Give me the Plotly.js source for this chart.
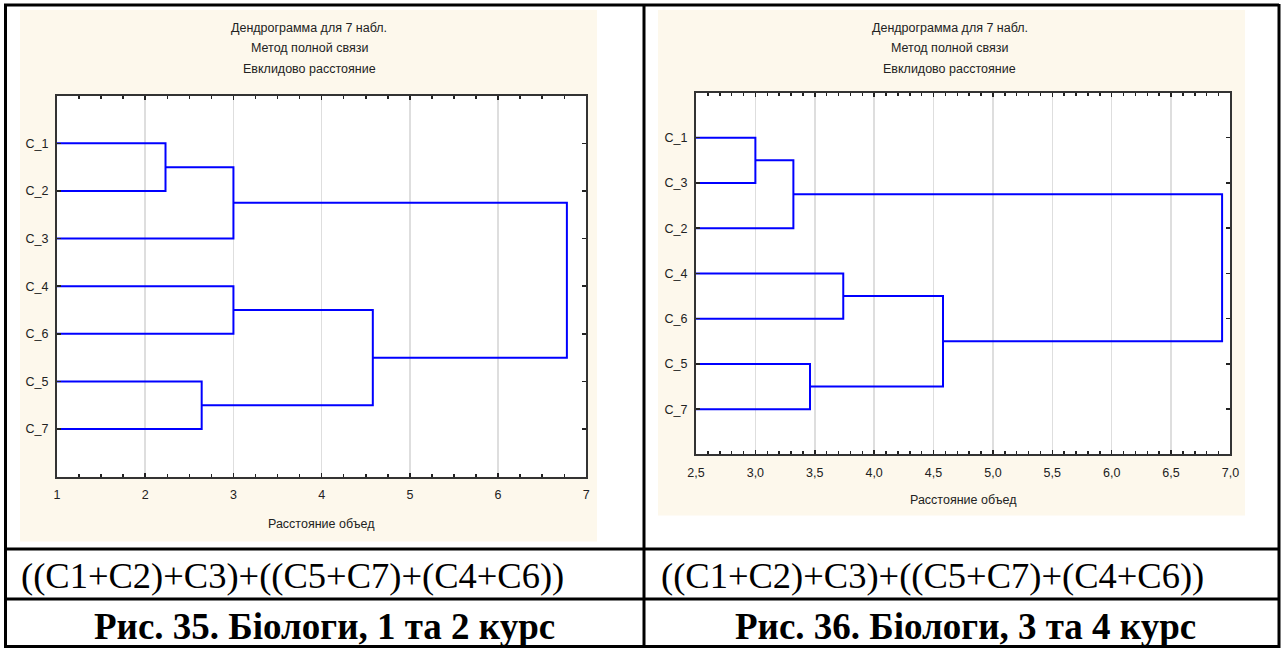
<!DOCTYPE html>
<html>
<head>
<meta charset="utf-8">
<script src="https://cdn.plot.ly/plotly-3.0.1.min.js"></script>
<style>
html,body{margin:0;padding:0;background:#fff;}
#chart{width:1282px;height:648px;}
</style>
</head>
<body>
<div id="chart"></div>
<script>
// ---------- DATA ----------
const titleLines = ['Дендрограмма для 7 набл.', 'Метод полной связи', 'Евклидово расстояние'];
const xAxisTitle = 'Расстояние объед';

// Chart 1 (Рис. 35)
const leaves1 = ['C_1', 'C_2', 'C_3', 'C_4', 'C_6', 'C_5', 'C_7'];
const mergeA1 = [0, 7, 3, 5, 9, 8];
const mergeB1 = [1, 2, 4, 6, 10, 11];
const mergeDist1 = [2.23, 3.0, 3.0, 2.64, 4.58, 6.78];

// Chart 2 (Рис. 36)
const leaves2 = ['C_1', 'C_3', 'C_2', 'C_4', 'C_6', 'C_5', 'C_7'];
const mergeA2 = [0, 7, 5, 3, 10, 8];
const mergeB2 = [1, 2, 6, 4, 9, 11];
const mergeDist2 = [3.0, 3.32, 3.46, 3.74, 4.58, 6.93];

const formulaText = '((C1+C2)+C3)+((C5+C7)+(C4+C6))';
const caption1 = 'Рис. 35. Біологи, 1 та 2 курс';
const caption2 = 'Рис. 36. Біологи, 3 та 4 курс';

// ---------- helpers ----------
const W = 1282, H = 648;
const px = v => v / W;
const py = v => 1 - v / H;

function dendroTrace(leaves, A, B, D, xa, ya) {
  const n = leaves.length;
  const pos = [], hgt = [];
  for (let i = 0; i < n; i++) { pos.push(i + 1); hgt.push(0); }
  const xs = [], ys = [];
  for (let k = 0; k < A.length; k++) {
    const a = A[k], b = B[k], d = D[k];
    xs.push(hgt[a], d, d, hgt[b], null);
    ys.push(pos[a], pos[a], pos[b], pos[b], null);
    pos.push((pos[a] + pos[b]) / 2);
    hgt.push(d);
  }
  return {
    x: xs, y: ys, type: 'scatter', mode: 'lines', xaxis: xa, yaxis: ya,
    line: {color: '#0000ff', width: 2}, hoverinfo: 'skip', showlegend: false
  };
}

const FONT = 'Liberation Sans, Arial, sans-serif';
const axisCommon = {
  showline: true, linecolor: '#333', linewidth: 2, mirror: 'ticks',
  ticks: 'inside', ticklen: 4, tickcolor: '#222', tickwidth: 1.5,
  zeroline: false, tickfont: {family: FONT, size: 12.5, color: '#222'},
  fixedrange: true
};

const layout = {
  width: W, height: H, margin: {l: 0, r: 0, t: 0, b: 0},
  paper_bgcolor: '#ffffff', plot_bgcolor: 'rgba(0,0,0,0)',
  separators: ', ', showlegend: false,
  xaxis: Object.assign({}, axisCommon, {
    domain: [px(57), px(586.3)], anchor: 'y', range: [1, 7], dtick: 1, tick0: 1,
    tickformat: 'd', showgrid: true, gridcolor: '#dedede', gridwidth: 1.5,
    ticklabelstandoff: 5,
    minor: {dtick: 0.25, ticks: 'inside', ticklen: 3, tickcolor: '#222', showgrid: false}
  }),
  yaxis: Object.assign({}, axisCommon, {
    domain: [py(476.7), py(95.7)], anchor: 'x', range: [8, 0],
    tickvals: leaves1.map((_, i) => i + 1), ticktext: leaves1, showgrid: false,
    ticklabelstandoff: 4
  }),
  xaxis2: Object.assign({}, axisCommon, {
    domain: [px(696), px(1230.4)], anchor: 'y2', range: [2.5, 7], dtick: 0.5, tick0: 2.5,
    tickformat: '.1f', showgrid: true, gridcolor: '#dedede', gridwidth: 1.5,
    ticklabelstandoff: 6,
    minor: {dtick: 0.1, ticks: 'inside', ticklen: 3, tickcolor: '#222', showgrid: false}
  }),
  yaxis2: Object.assign({}, axisCommon, {
    domain: [py(454.4), py(92.5)], anchor: 'x2', range: [8, 0],
    tickvals: leaves2.map((_, i) => i + 1), ticktext: leaves2, showgrid: false,
    ticklabelstandoff: 4
  }),
  shapes: [],
  annotations: []
};

function rect(x0, y0, x1, y1, fill) {
  return {type: 'rect', xref: 'paper', yref: 'paper', x0: px(x0), x1: px(x1), y0: py(y1), y1: py(y0),
    fillcolor: fill, line: {width: 0}, layer: 'below'};
}
function line(x0, y0, x1, y1) {
  return {type: 'line', xref: 'paper', yref: 'paper', x0: px(x0), x1: px(x1), y0: py(y0), y1: py(y1),
    line: {color: '#000', width: 3}, layer: 'above'};
}
// beige chart backgrounds + white plot areas
layout.shapes.push(rect(20, 10, 597, 541.5, '#fdf8ec'));
layout.shapes.push(rect(658, 10, 1245, 515.5, '#fdf8ec'));
layout.shapes.push(rect(57, 95.7, 586.3, 476.7, '#ffffff'));
layout.shapes.push(rect(696, 92.5, 1230.4, 454.4, '#ffffff'));
// table borders
layout.shapes.push(line(4, 5, 1279, 5));
layout.shapes.push(line(5.5, 4, 5.5, 648));
layout.shapes.push(line(644, 4, 644, 648));
layout.shapes.push(line(1279, 4, 1279, 648));
layout.shapes.push(line(4, 549, 1279, 549));
layout.shapes.push(line(4, 599, 1279, 599));
layout.shapes.push(line(4, 646.5, 1279, 646.5));

function ann(text, x, y, size, opts) {
  return Object.assign({xref: 'paper', yref: 'paper', x: px(x), y: py(y), text: text, showarrow: false,
    xanchor: 'center', yanchor: 'middle', font: {family: FONT, size: size, color: '#222'}}, opts || {});
}
const titleY = [27.7, 48.3, 68.7];
titleLines.forEach((t, i) => {
  layout.annotations.push(ann(t, 309, titleY[i], 12.5));
  layout.annotations.push(ann(t, 949.5, titleY[i], 12.5));
});
layout.annotations.push(ann(xAxisTitle, 321.6, 524.3, 12.5));
layout.annotations.push(ann(xAxisTitle, 963, 500, 12.5));

const SERIF = 'Liberation Serif, Times New Roman, serif';
layout.annotations.push(ann(formulaText, 19, 575, 36.5, {xanchor: 'left', font: {family: SERIF, size: 36.5, color: '#000'}}));
layout.annotations.push(ann(formulaText, 659, 575, 36.5, {xanchor: 'left', font: {family: SERIF, size: 36.5, color: '#000'}}));
layout.annotations.push(ann('<b>' + caption1 + '</b>', 325, 626, 37, {font: {family: SERIF, size: 37, color: '#000'}}));
layout.annotations.push(ann('<b>' + caption2 + '</b>', 965, 626, 37, {font: {family: SERIF, size: 37, color: '#000'}}));

const data = [
  dendroTrace(leaves1, mergeA1, mergeB1, mergeDist1, 'x', 'y'),
  dendroTrace(leaves2, mergeA2, mergeB2, mergeDist2, 'x2', 'y2')
];

Plotly.newPlot('chart', data, layout, {displayModeBar: false, staticPlot: true});
</script>
</body>
</html>
